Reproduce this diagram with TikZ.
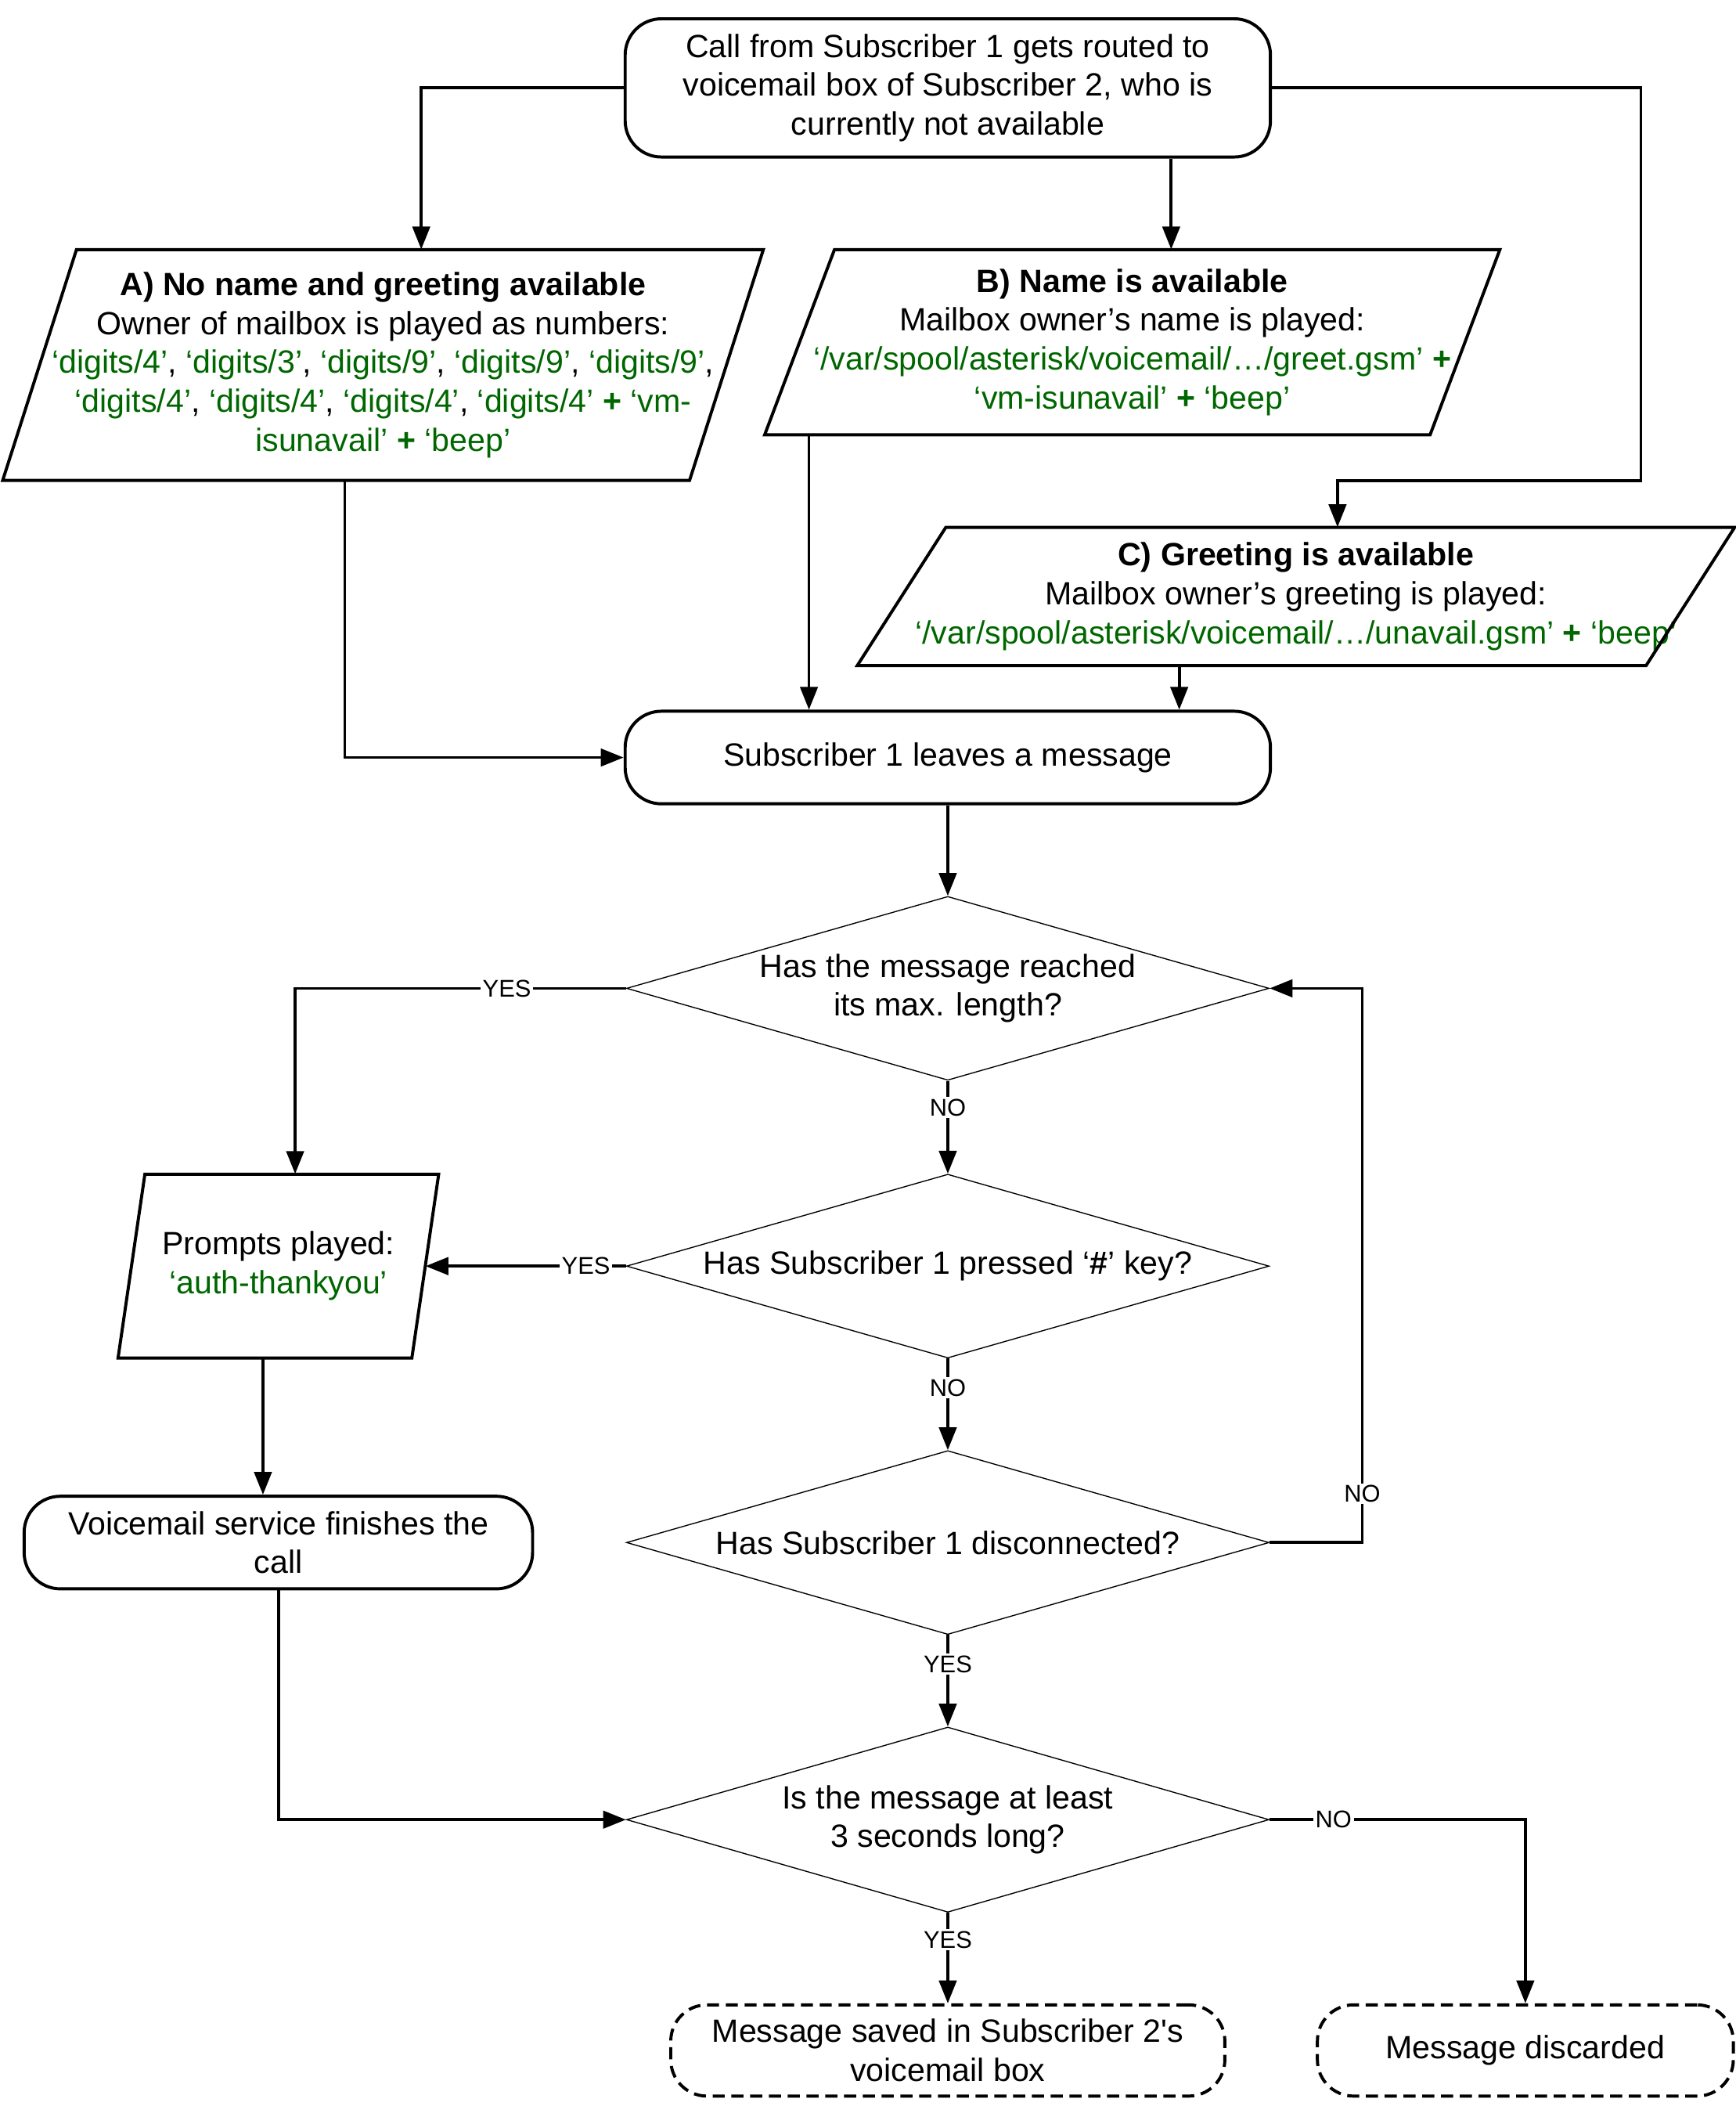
\documentclass[tikz,border=0pt]{standalone}
\usepackage{fontspec}
\setmainfont{Liberation Sans}[Ligatures=TeXOff]
\usetikzlibrary{shapes.geometric,arrows.meta}
\definecolor{vgreen}{RGB}{0,102,0}
\newcommand\grn[1]{\textcolor{vgreen}{#1}}
\newcommand\pgram[4]{%
  \draw[pline] ([shift={({-#2/2+#4/2},{-#3/2})}]#1.center) -- ([shift={({#2/2+#4/2},{-#3/2})}]#1.center) -- ([shift={({#2/2-#4/2},{#3/2})}]#1.center) -- ([shift={({-#2/2-#4/2},{#3/2})}]#1.center) -- cycle;}
\tikzset{
 rbox/.style={draw, line width=2.3pt, rounded corners=27pt, inner sep=0pt, align=center},
 dbox/.style={rbox, dash pattern=on 9pt off 5pt},
 dec/.style={draw, shape=diamond, line width=0.8pt, inner sep=0pt, aspect=3.5, align=center},
 ptext/.style={inner sep=0pt, align=center},
 pline/.style={draw, line width=2.3pt, line join=miter},
 conn/.style={line width=2.2pt, -{Triangle[length=17pt,width=13pt]}},
 lbl/.style={fill=white, inner sep=1.5pt, font=\fontsize{18}{20}\selectfont},
}
\begin{document}
\begin{tikzpicture}[x=1pt,y=-1pt,font=\fontsize{24}{29}\selectfont]
\useasboundingbox (0,0) rectangle (1294,1569.4);
% boxes
\node[rbox, minimum width=481, minimum height=103] (T) at (706.5,65.5)
  {Call from Subscriber 1 gets routed to\\voicemail box of Subscriber 2, who is\\currently not available};
\node[ptext, minimum width=512, minimum height=172] (A) at (285.5,272)
  {\textbf{A) No name and greeting available}\\
   Owner of mailbox is played as numbers:\\
   \grn{‘digits/4’}, \grn{‘digits/3’}, \grn{‘digits/9’}, \grn{‘digits/9’}, \grn{‘digits/9’},\\
   \grn{‘digits/4’}, \grn{‘digits/4’}, \grn{‘digits/4’}, \grn{‘digits/4’ \textbf{+} ‘vm-}\\
   \grn{isunavail’ \textbf{+} ‘beep’}};
\pgram{A}{512}{172}{55}
\node[ptext, minimum width=496, minimum height=138] (B) at (844,255)
  {\textbf{B) Name is available}\\
   Mailbox owner’s name is played:\\
   \grn{‘/var/spool/asterisk/voicemail/…/greet.gsm’ \textbf{+}}\\
   \grn{‘vm-isunavail’ \textbf{+} ‘beep’}};
\pgram{B}{496}{138}{52}
\node[ptext, minimum width=588, minimum height=103] (C) at (966,444.5)
  {\textbf{C) Greeting is available}\\
   Mailbox owner’s greeting is played:\\
   \grn{‘/var/spool/asterisk/voicemail/…/unavail.gsm’ \textbf{+} ‘beep’}};
\pgram{C}{588}{103}{66}
\node[rbox, minimum width=481, minimum height=69] (S) at (706.5,564.5) {Subscriber 1 leaves a message};
\node[dec, minimum width=479, minimum height=137] (D1) at (706.5,736.5) {Has the message reached\\its max. length?};
\node[dec, minimum width=479, minimum height=137] (D2) at (706.5,943.5) {Has Subscriber 1 pressed ‘\textbf{\#}’ key?};
\node[dec, minimum width=479, minimum height=137] (D3) at (706.5,1149.5) {Has Subscriber 1 disconnected?};
\node[dec, minimum width=479, minimum height=138] (D4) at (706.5,1356) {Is the message at least\\3 seconds long?};
\node[ptext, minimum width=219, minimum height=137] (P) at (207.5,943.5) {Prompts played:\\\grn{‘auth-thankyou’}};
\pgram{P}{219}{137}{20}
\node[rbox, minimum width=379, minimum height=69] (V) at (207.5,1149.5) {Voicemail service finishes the\\call};
\node[dbox, minimum width=413, minimum height=68] (Sv) at (706.5,1528) {Message saved in Subscriber 2's\\voicemail box};
\node[dbox, minimum width=310, minimum height=68] (Dis) at (1137,1528) {Message discarded};
% connectors
\draw[conn] (T.west) -| ([xshift=28.5]A.north);
\draw[conn] ([xshift=166.5]T.south) -- ([xshift=29]B.north);
\draw[conn] (T.east) -- ++(275,0) -- ++(0,292.5) -| ([xshift=31]C.north);
\draw[conn] ([xshift=-28.5]A.south) |- (S.west);
\draw[conn] ([xshift=-241]B.south) -- ([xshift=-103.5]S.north);
\draw[conn] ([xshift=-87]C.south) -- ([xshift=172.5]S.north);
\draw[conn] (S.south) -- (D1.north);
\draw[conn] (D1.west) -| node[lbl,pos=0.18]{YES} ([xshift=12.5]P.north);
\draw[conn] (D1.south) -- node[lbl,pos=0.29]{NO} (D2.north);
\draw[conn] (D2.west) -- node[lbl,pos=0.2]{YES} (P.east);
\draw[conn] (D2.south) -- node[lbl,pos=0.32]{NO} (D3.north);
\draw[conn] (D3.east) -- ++(69,0) |- node[lbl,pos=0.044]{NO} (D1.east);
\draw[conn] (D3.south) -- node[lbl,pos=0.32]{YES} (D4.north);
\draw[conn] ([xshift=-11.5]P.south) -- ([xshift=-11.5]V.north);
\draw[conn] (V.south) |- (D4.west);
\draw[conn] (D4.east) -| node[lbl,pos=0.125]{NO} (Dis.north);
\draw[conn] (D4.south) -- node[lbl,pos=0.3]{YES} (Sv.north);
\end{tikzpicture}
\end{document}
